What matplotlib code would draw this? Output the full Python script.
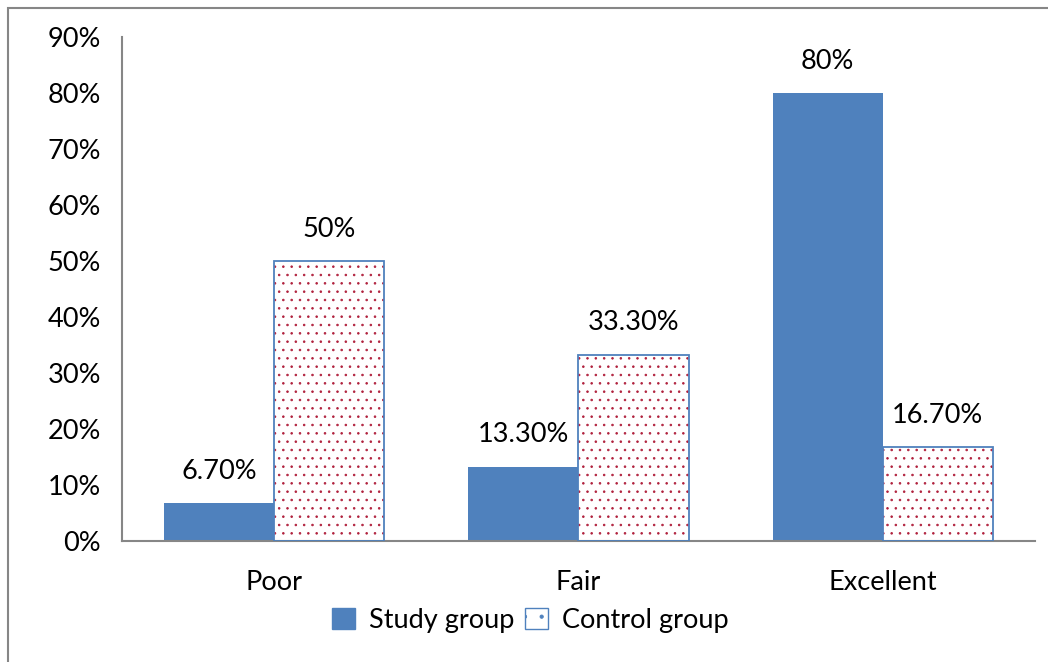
import numpy as np
import matplotlib.pyplot as plt
from matplotlib.patches import Rectangle, Patch

plt.rcParams['font.family'] = ['Lato', 'DejaVu Sans']
plt.rcParams['hatch.linewidth'] = 0.6

categories = ['Poor', 'Fair', 'Excellent']
study = [6.7, 13.3, 80]
control = [50, 33.3, 16.7]
study_labels = ['6.70%', '13.30%', '80%']
control_labels = ['50%', '33.30%', '16.70%']

blue = '#4F81BD'
dot_red = '#B0203C'
axis_grey = '#868686'
fs = 19.5

fig = plt.figure(figsize=(10.48, 6.62), dpi=100)
ax = fig.add_axes([0.1164, 0.1828, 0.8712, 0.7613])

x = np.arange(len(categories))
w = 0.362

ax.bar(x - w / 2, study, w, color=blue, linewidth=0, zorder=2)
# dotted fill first, then the blue outline over it
ax.bar(x + w / 2, control, w, color='white', edgecolor=dot_red, hatch='..',
       linewidth=0, zorder=2)
ax.bar(x + w / 2, control, w, fill=False, edgecolor=blue, linewidth=1.3, zorder=3)

for xi, v, s in zip(x - w / 2, study, study_labels):
    ax.annotate(s, (xi, v), xytext=(0, 14), textcoords='offset points',
                ha='center', va='bottom', fontsize=fs)
for xi, v, s in zip(x + w / 2, control, control_labels):
    ax.annotate(s, (xi, v), xytext=(0, 14), textcoords='offset points',
                ha='center', va='bottom', fontsize=fs)

ax.set_xlim(-0.5, 2.5)
ax.set_ylim(0, 90)
ax.set_yticks(np.arange(0, 91, 10))
ax.set_yticklabels([f'{t}%' for t in range(0, 91, 10)], fontsize=fs)
ax.set_xticks(x)
ax.set_xticklabels(categories, fontsize=fs)
ax.tick_params(axis='both', length=0)
ax.tick_params(axis='y', pad=15)
ax.tick_params(axis='x', pad=21)

for side in ['top', 'right']:
    ax.spines[side].set_visible(False)
for side in ['left', 'bottom']:
    ax.spines[side].set_color(axis_grey)
    ax.spines[side].set_linewidth(1.5)

handles = [Patch(facecolor=blue, edgecolor=blue, label='Study group'),
           Patch(facecolor='white', edgecolor=blue, hatch='.',
                 label='Control group')]
fig.legend(handles=handles, loc='center', bbox_to_anchor=(0.506, 0.063),
           ncol=2, frameon=False, fontsize=fs, handlelength=0.85,
           handleheight=0.85, handletextpad=0.5, columnspacing=0.4)

# chart area border
fig.patches.append(Rectangle((8 / 1048, -0.1), 1.2, 1 - 8 / 662 + 0.1,
                             transform=fig.transFigure, fill=False,
                             edgecolor=axis_grey, linewidth=1.5))

fig.savefig('out.png', dpi=100)
